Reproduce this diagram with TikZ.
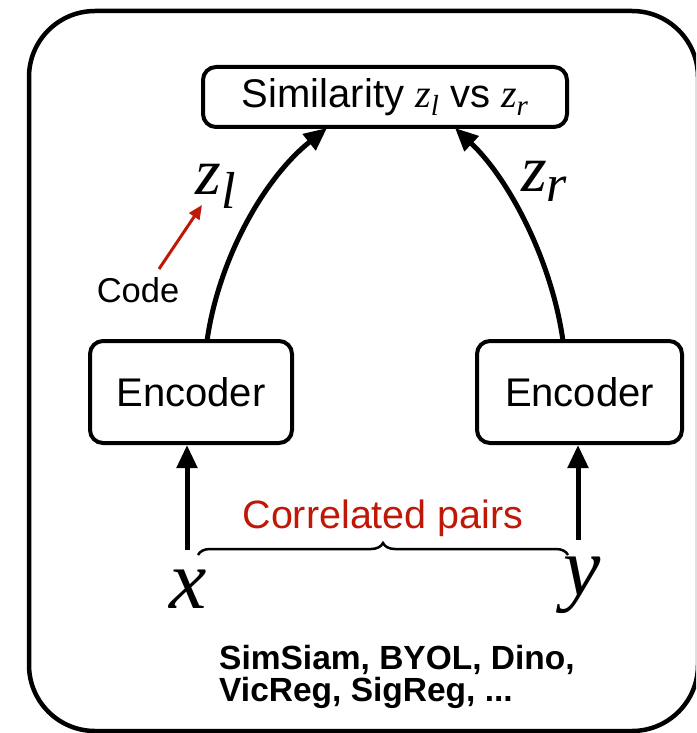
\documentclass[tikz,border=0pt]{standalone}
\usepackage{fontspec}
\setmainfont{Liberation Sans}
\newfontfamily\tm{Liberation Serif}
\usetikzlibrary{arrows.meta,decorations.pathreplacing}
\definecolor{myred}{RGB}{192,24,6}
\tikzset{
  box/.style={draw, line width=4pt, rounded corners=13pt, inner sep=0pt},
  conn/.style={line width=5pt, -{Triangle[length=23pt,width=20pt]}},
  redconn/.style={myred, line width=3pt, -{Triangle[length=14pt,width=12pt]}},
  lbl/.style={inner sep=0pt}
}
\begin{document}
\begin{tikzpicture}[x=1pt,y=-1pt]
\useasboundingbox (0,0) rectangle (696,733);
\clip (0,0) rectangle (696,733);
\draw[line width=4.5pt, rounded corners=66pt] (29,11) rectangle (698,731);

\node[box, minimum width=364pt, minimum height=60pt] (sim) at (385,97)
  {\fontsize{40}{40}\selectfont Similarity {\tm\itshape z\raisebox{-8pt}{\fontsize{29}{29}\selectfont l}} vs {\tm\itshape z\raisebox{-8pt}{\fontsize{29}{29}\selectfont r}}};
\node[box, minimum width=202pt, minimum height=102pt] (encL) at (191,392)
  {\fontsize{40}{40}\selectfont Encoder};
\node[box, minimum width=205pt, minimum height=102pt] (encR) at (579.5,392)
  {\fontsize{40}{40}\selectfont Encoder};

\node[lbl] (x) at (188,589) {\fontsize{84}{84}\tm\itshape x};
\node[lbl] (y) at (582,585) {\fontsize{84}{84}\tm\itshape y};

\coordinate (xs) at (187,550);
\coordinate (ys) at (578,540);
\draw[conn] (xs) -- (xs |- encL.south);
\draw[conn] (ys) -- (ys |- encR.south);

\coordinate (lb) at (207,341);
\coordinate (lt) at (327,128);
\coordinate (rb) at (563,341);
\coordinate (rt) at (455,128);
\draw[conn] (lb) .. controls (218,262) and (262,180) .. (lt);
\draw[conn] (rb) .. controls (552,262) and (510,180) .. (rt);

\node[lbl] (zl) at (216,186) {\fontsize{66}{66}\tm\itshape z\raisebox{-14pt}{\fontsize{52}{52}\selectfont l}};
\node[lbl] (zr) at (544,181) {\fontsize{66}{66}\tm\itshape z\raisebox{-10pt}{\fontsize{52}{52}\selectfont r}};

\node[lbl] (code) at (138,290) {\fontsize{34.5}{34.5}\selectfont Code};
\coordinate (cs) at (159,269);
\coordinate (ce) at (202,205);
\draw[redconn] (cs) -- (ce);

\coordinate (bl) at (198,555);
\coordinate (br) at (568,555);
\draw[line width=2.5pt, decorate, decoration={brace, amplitude=12pt}] (bl) -- (br);
\node[lbl, myred] (corr) at (383,518) {\fontsize{39.5}{39.5}\selectfont Correlated pairs};

\node[lbl, anchor=west, align=left, font=\fontsize{33.5}{32}\selectfont\bfseries] (meth) at (219,677)
  {SimSiam, BYOL, Dino,\\VicReg, SigReg, ...};
\end{tikzpicture}
\end{document}
